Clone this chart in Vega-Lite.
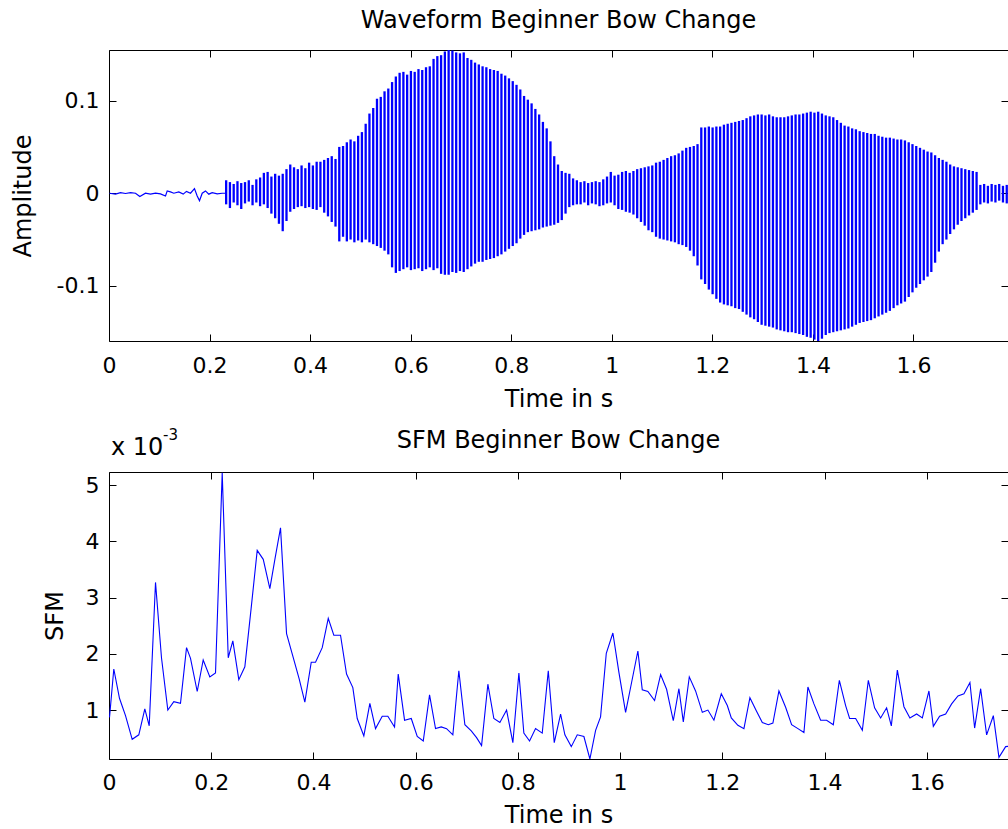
{
  "$schema": "https://vega.github.io/schema/vega-lite/v6.json",
  "padding": {"left": 11, "top": 9, "right": 0, "bottom": 0},
  "spacing": 16,
  "config": {
    "font": "DejaVu Sans",
    "view": {"stroke": null},
    "axis": {
      "grid": false,
      "domainColor": "#000000",
      "tickColor": "#000000",
      "labelColor": "#000000",
      "titleColor": "#000000",
      "labelFontSize": 22,
      "titleFontSize": 24,
      "titleFontWeight": "normal",
      "tickSize": -7,
      "tickWidth": 1,
      "domainWidth": 1,
      "labelOverlap": false
    },
    "title": {"fontSize": 24, "fontWeight": "normal", "color": "#000000"}
  },
  "vconcat": [
    {
      "width": 899,
      "height": 291,
      "title": {"text": "Waveform Beginner Bow Change", "frame": "group", "anchor": "middle", "baseline": "alphabetic", "offset": -2.5},
      "layer": [
        {
          "data": {"values": [
            {"t":0.001,"a":0},{"t":0.0129,"a":-0.001},{"t":0.0229,"a":0.0007},{"t":0.0328,"a":-0.0003},{"t":0.0428,"a":0.0007},{"t":0.0527,"a":0},{"t":0.0613,"a":-0.0036},{"t":0.0726,"a":0},{"t":0.0825,"a":-0.001},{"t":0.0925,"a":0},{"t":0.1024,"a":-0.0007},{"t":0.1124,"a":-0.003},{"t":0.1158,"a":0.0025},{"t":0.1223,"a":0.0014},{"t":0.1289,"a":0},{"t":0.1388,"a":0.0014},{"t":0.1476,"a":-0.001},{"t":0.1541,"a":0.002},{"t":0.1621,"a":0},{"t":0.17,"a":0.005},{"t":0.1754,"a":-0.003},{"t":0.18,"a":-0.008},{"t":0.1854,"a":0},{"t":0.1919,"a":0.0025},{"t":0.1985,"a":-0.001},{"t":0.2052,"a":0.0007},{"t":0.2152,"a":-0.0007},{"t":0.2251,"a":0},{"t":0.2317,"a":0}
          ]},
          "mark": {"type": "line", "color": "#0000ff", "strokeWidth": 1.2, "clip": true},
          "encoding": {
            "x": {"field": "t", "type": "quantitative", "scale": {"domain": [0, 1.788], "nice": false, "zero": false},
              "axis": {"orient": "bottom", "values": [0,0.2,0.4,0.6,0.8,1,1.2,1.4,1.6], "format": "~g", "labelFlush": false, "labelPadding": 38, "labelBaseline": "alphabetic", "title": "Time in s", "titleX": 449.5, "titleY": 65, "titleAlign": "center", "titleBaseline": "alphabetic", "titleAngle": 0}},
            "y": {"field": "a", "type": "quantitative", "scale": {"domain": [-0.1595, 0.1546], "nice": false, "zero": false},
              "axis": {"orient": "left", "values": [-0.1,0,0.1], "labelExpr": "datum.value < 0 ? '-0.1' : (datum.value > 0 ? '0.1' : '0')", "labelPadding": 17, "title": "Amplitude", "titleX": -78.5, "titleY": 145.5, "titleAngle": -90, "titleAlign": "center", "titleBaseline": "alphabetic"}}
          }
        },
        {
          "data": {"values": [
            {"t":0.233,"lo":-0.012,"hi":0.014},{"t":0.2405,"lo":-0.016,"hi":0.012},{"t":0.248,"lo":-0.010,"hi":0.010},{"t":0.2555,"lo":-0.013,"hi":0.013},{"t":0.263,"lo":-0.017,"hi":0.011},{"t":0.2705,"lo":-0.011,"hi":0.012},{"t":0.278,"lo":-0.009,"hi":0.014},{"t":0.2855,"lo":-0.013,"hi":0.009},{"t":0.293,"lo":-0.010,"hi":0.015},{"t":0.3005,"lo":-0.014,"hi":0.017},
            {"t":0.308,"lo":-0.012,"hi":0.022},{"t":0.3155,"lo":-0.016,"hi":0.023},{"t":0.323,"lo":-0.022,"hi":0.018},{"t":0.3305,"lo":-0.027,"hi":0.021},{"t":0.338,"lo":-0.033,"hi":0.019},{"t":0.3455,"lo":-0.041,"hi":0.021},{"t":0.353,"lo":-0.030,"hi":0.026},{"t":0.3605,"lo":-0.020,"hi":0.031},{"t":0.368,"lo":-0.017,"hi":0.028},{"t":0.3755,"lo":-0.015,"hi":0.026},
            {"t":0.383,"lo":-0.014,"hi":0.030},{"t":0.3905,"lo":-0.016,"hi":0.027},{"t":0.398,"lo":-0.015,"hi":0.033},{"t":0.4055,"lo":-0.017,"hi":0.030},{"t":0.413,"lo":-0.018,"hi":0.034},{"t":0.4205,"lo":-0.015,"hi":0.034},{"t":0.428,"lo":-0.021,"hi":0.036},{"t":0.4355,"lo":-0.025,"hi":0.038},{"t":0.443,"lo":-0.031,"hi":0.040},{"t":0.4505,"lo":-0.036,"hi":0.037},
            {"t":0.458,"lo":-0.052,"hi":0.050},{"t":0.4655,"lo":-0.047,"hi":0.051},{"t":0.473,"lo":-0.052,"hi":0.055},{"t":0.4805,"lo":-0.050,"hi":0.058},{"t":0.488,"lo":-0.053,"hi":0.056},{"t":0.4955,"lo":-0.051,"hi":0.062},{"t":0.503,"lo":-0.053,"hi":0.066},{"t":0.5105,"lo":-0.050,"hi":0.075},{"t":0.518,"lo":-0.053,"hi":0.086},{"t":0.5255,"lo":-0.055,"hi":0.092},
            {"t":0.533,"lo":-0.057,"hi":0.102},{"t":0.5405,"lo":-0.059,"hi":0.104},{"t":0.548,"lo":-0.062,"hi":0.110},{"t":0.5555,"lo":-0.066,"hi":0.113},{"t":0.563,"lo":-0.080,"hi":0.120},{"t":0.5705,"lo":-0.086,"hi":0.126},{"t":0.578,"lo":-0.084,"hi":0.130},{"t":0.5855,"lo":-0.082,"hi":0.131},{"t":0.593,"lo":-0.080,"hi":0.128},{"t":0.6005,"lo":-0.083,"hi":0.132},
            {"t":0.608,"lo":-0.082,"hi":0.131},{"t":0.6155,"lo":-0.081,"hi":0.134},{"t":0.623,"lo":-0.084,"hi":0.133},{"t":0.6305,"lo":-0.082,"hi":0.136},{"t":0.638,"lo":-0.080,"hi":0.137},{"t":0.6455,"lo":-0.083,"hi":0.145},{"t":0.653,"lo":-0.081,"hi":0.148},{"t":0.6605,"lo":-0.087,"hi":0.149},{"t":0.668,"lo":-0.088,"hi":0.153},{"t":0.6755,"lo":-0.088,"hi":0.155},
            {"t":0.683,"lo":-0.085,"hi":0.154},{"t":0.6905,"lo":-0.086,"hi":0.152},{"t":0.698,"lo":-0.084,"hi":0.151},{"t":0.7055,"lo":-0.085,"hi":0.152},{"t":0.713,"lo":-0.082,"hi":0.146},{"t":0.7205,"lo":-0.079,"hi":0.144},{"t":0.728,"lo":-0.076,"hi":0.141},{"t":0.7355,"lo":-0.074,"hi":0.139},{"t":0.743,"lo":-0.074,"hi":0.137},{"t":0.7505,"lo":-0.072,"hi":0.136},
            {"t":0.758,"lo":-0.071,"hi":0.134},{"t":0.7655,"lo":-0.070,"hi":0.133},{"t":0.773,"lo":-0.068,"hi":0.132},{"t":0.7805,"lo":-0.066,"hi":0.129},{"t":0.788,"lo":-0.063,"hi":0.127},{"t":0.7955,"lo":-0.060,"hi":0.124},{"t":0.803,"lo":-0.057,"hi":0.121},{"t":0.8105,"lo":-0.054,"hi":0.117},{"t":0.818,"lo":-0.049,"hi":0.112},{"t":0.8255,"lo":-0.045,"hi":0.105},
            {"t":0.833,"lo":-0.042,"hi":0.101},{"t":0.8405,"lo":-0.041,"hi":0.097},{"t":0.848,"lo":-0.040,"hi":0.091},{"t":0.8555,"lo":-0.039,"hi":0.085},{"t":0.863,"lo":-0.037,"hi":0.077},{"t":0.8705,"lo":-0.036,"hi":0.070},{"t":0.878,"lo":-0.035,"hi":0.056},{"t":0.8855,"lo":-0.034,"hi":0.040},{"t":0.893,"lo":-0.032,"hi":0.031},{"t":0.9005,"lo":-0.029,"hi":0.024},
            {"t":0.908,"lo":-0.022,"hi":0.022},{"t":0.9155,"lo":-0.015,"hi":0.021},{"t":0.923,"lo":-0.013,"hi":0.016},{"t":0.9305,"lo":-0.012,"hi":0.014},{"t":0.938,"lo":-0.012,"hi":0.012},{"t":0.9455,"lo":-0.010,"hi":0.013},{"t":0.953,"lo":-0.013,"hi":0.011},{"t":0.9605,"lo":-0.011,"hi":0.012},{"t":0.968,"lo":-0.012,"hi":0.013},{"t":0.9755,"lo":-0.014,"hi":0.012},
            {"t":0.983,"lo":-0.013,"hi":0.015},{"t":0.9905,"lo":-0.011,"hi":0.018},{"t":0.998,"lo":-0.010,"hi":0.023},{"t":1.0055,"lo":-0.013,"hi":0.019},{"t":1.013,"lo":-0.017,"hi":0.020},{"t":1.0205,"lo":-0.018,"hi":0.023},{"t":1.028,"lo":-0.020,"hi":0.024},{"t":1.0355,"lo":-0.021,"hi":0.022},{"t":1.043,"lo":-0.023,"hi":0.024},{"t":1.0505,"lo":-0.027,"hi":0.026},
            {"t":1.058,"lo":-0.031,"hi":0.027},{"t":1.0655,"lo":-0.035,"hi":0.028},{"t":1.073,"lo":-0.040,"hi":0.029},{"t":1.0805,"lo":-0.042,"hi":0.030},{"t":1.088,"lo":-0.047,"hi":0.033},{"t":1.0955,"lo":-0.049,"hi":0.034},{"t":1.103,"lo":-0.050,"hi":0.036},{"t":1.1105,"lo":-0.051,"hi":0.038},{"t":1.118,"lo":-0.052,"hi":0.040},{"t":1.1255,"lo":-0.053,"hi":0.041},
            {"t":1.133,"lo":-0.055,"hi":0.043},{"t":1.1405,"lo":-0.056,"hi":0.046},{"t":1.148,"lo":-0.058,"hi":0.049},{"t":1.1555,"lo":-0.062,"hi":0.050},{"t":1.163,"lo":-0.068,"hi":0.051},{"t":1.1705,"lo":-0.078,"hi":0.053},{"t":1.178,"lo":-0.093,"hi":0.071},{"t":1.1855,"lo":-0.098,"hi":0.071},{"t":1.193,"lo":-0.104,"hi":0.072},{"t":1.2005,"lo":-0.109,"hi":0.071},
            {"t":1.208,"lo":-0.114,"hi":0.072},{"t":1.2155,"lo":-0.118,"hi":0.072},{"t":1.223,"lo":-0.120,"hi":0.074},{"t":1.2305,"lo":-0.121,"hi":0.075},{"t":1.238,"lo":-0.122,"hi":0.076},{"t":1.2455,"lo":-0.124,"hi":0.077},{"t":1.253,"lo":-0.125,"hi":0.078},{"t":1.2605,"lo":-0.128,"hi":0.079},{"t":1.268,"lo":-0.131,"hi":0.081},{"t":1.2755,"lo":-0.134,"hi":0.083},
            {"t":1.283,"lo":-0.136,"hi":0.084},{"t":1.2905,"lo":-0.139,"hi":0.085},{"t":1.298,"lo":-0.142,"hi":0.085},{"t":1.3055,"lo":-0.143,"hi":0.084},{"t":1.313,"lo":-0.144,"hi":0.085},{"t":1.3205,"lo":-0.145,"hi":0.083},{"t":1.328,"lo":-0.147,"hi":0.082},{"t":1.3355,"lo":-0.148,"hi":0.082},{"t":1.343,"lo":-0.149,"hi":0.082},{"t":1.3505,"lo":-0.150,"hi":0.083},
            {"t":1.358,"lo":-0.150,"hi":0.084},{"t":1.3655,"lo":-0.151,"hi":0.085},{"t":1.373,"lo":-0.152,"hi":0.085},{"t":1.3805,"lo":-0.153,"hi":0.086},{"t":1.388,"lo":-0.155,"hi":0.087},{"t":1.3955,"lo":-0.156,"hi":0.088},{"t":1.403,"lo":-0.158,"hi":0.087},{"t":1.4105,"lo":-0.160,"hi":0.088},{"t":1.418,"lo":-0.157,"hi":0.086},{"t":1.4255,"lo":-0.153,"hi":0.084},
            {"t":1.433,"lo":-0.151,"hi":0.083},{"t":1.4405,"lo":-0.150,"hi":0.082},{"t":1.448,"lo":-0.149,"hi":0.079},{"t":1.4555,"lo":-0.148,"hi":0.076},{"t":1.463,"lo":-0.147,"hi":0.073},{"t":1.4705,"lo":-0.146,"hi":0.072},{"t":1.478,"lo":-0.144,"hi":0.070},{"t":1.4855,"lo":-0.142,"hi":0.069},{"t":1.493,"lo":-0.140,"hi":0.067},{"t":1.5005,"lo":-0.139,"hi":0.066},
            {"t":1.508,"lo":-0.138,"hi":0.065},{"t":1.5155,"lo":-0.137,"hi":0.064},{"t":1.523,"lo":-0.135,"hi":0.064},{"t":1.5305,"lo":-0.133,"hi":0.062},{"t":1.538,"lo":-0.131,"hi":0.061},{"t":1.5455,"lo":-0.129,"hi":0.060},{"t":1.553,"lo":-0.127,"hi":0.060},{"t":1.5605,"lo":-0.124,"hi":0.059},{"t":1.568,"lo":-0.121,"hi":0.058},{"t":1.5755,"lo":-0.119,"hi":0.058},
            {"t":1.583,"lo":-0.117,"hi":0.057},{"t":1.5905,"lo":-0.112,"hi":0.055},{"t":1.598,"lo":-0.107,"hi":0.053},{"t":1.6055,"lo":-0.102,"hi":0.051},{"t":1.613,"lo":-0.098,"hi":0.049},{"t":1.6205,"lo":-0.094,"hi":0.047},{"t":1.628,"lo":-0.090,"hi":0.045},{"t":1.6355,"lo":-0.085,"hi":0.044},{"t":1.643,"lo":-0.075,"hi":0.041},{"t":1.6505,"lo":-0.063,"hi":0.038},
            {"t":1.658,"lo":-0.055,"hi":0.036},{"t":1.6655,"lo":-0.050,"hi":0.034},{"t":1.673,"lo":-0.044,"hi":0.031},{"t":1.6805,"lo":-0.039,"hi":0.029},{"t":1.688,"lo":-0.034,"hi":0.028},{"t":1.6955,"lo":-0.030,"hi":0.027},{"t":1.703,"lo":-0.027,"hi":0.026},{"t":1.7105,"lo":-0.024,"hi":0.025},{"t":1.718,"lo":-0.021,"hi":0.024},{"t":1.7255,"lo":-0.018,"hi":0.023},
            {"t":1.733,"lo":-0.012,"hi":0.009},{"t":1.7405,"lo":-0.010,"hi":0.010},{"t":1.748,"lo":-0.011,"hi":0.008},{"t":1.7555,"lo":-0.009,"hi":0.010},{"t":1.763,"lo":-0.010,"hi":0.009},{"t":1.7705,"lo":-0.008,"hi":0.010},{"t":1.778,"lo":-0.010,"hi":0.008},{"t":1.7855,"lo":-0.011,"hi":0.009}
          ]},
          "mark": {"type": "rule", "color": "#0000ff", "strokeWidth": 2.3, "clip": true},
          "encoding": {
            "x": {"field": "t", "type": "quantitative", "scale": {"domain": [0, 1.788], "nice": false, "zero": false},
              "axis": {"orient": "top", "values": [0,0.2,0.4,0.6,0.8,1,1.2,1.4,1.6], "labels": false, "title": null}},
            "y": {"field": "lo", "type": "quantitative", "scale": {"domain": [-0.1595, 0.1546], "nice": false, "zero": false},
              "axis": {"orient": "right", "values": [-0.1,0,0.1], "labels": false, "domain": false, "title": null}},
            "y2": {"field": "hi"}
          }
        }
      ],
      "resolve": {"axis": {"x": "independent", "y": "independent"}}
    },
    {
      "width": 899,
      "height": 287,
      "title": {"text": "SFM Beginner Bow Change", "frame": "group", "anchor": "middle", "baseline": "alphabetic", "offset": -45},
      "layer": [
        {
          "data": {"values": [
            {"t":0.001,"v":0.00087},{"t":0.0094,"v":0.00173},{"t":0.0205,"v":0.00121},{"t":0.0323,"v":0.0009},{"t":0.0454,"v":0.00048},{"t":0.0583,"v":0.00056},{"t":0.0701,"v":0.00102},{"t":0.0787,"v":0.00072},{"t":0.091,"v":0.00327},{"t":0.1027,"v":0.00193},
            {"t":0.1151,"v":0.001},{"t":0.1268,"v":0.00115},{"t":0.1399,"v":0.00112},{"t":0.1517,"v":0.00211},{"t":0.1595,"v":0.00192},{"t":0.1726,"v":0.00133},{"t":0.1843,"v":0.00189},{"t":0.1973,"v":0.00159},{"t":0.2084,"v":0.00166},{"t":0.2215,"v":0.00522},
            {"t":0.2333,"v":0.00193},{"t":0.2423,"v":0.00223},{"t":0.254,"v":0.00154},{"t":0.2658,"v":0.00177},{"t":0.278,"v":0.0028},{"t":0.29,"v":0.00384},{"t":0.3018,"v":0.00368},{"t":0.3147,"v":0.00316},{"t":0.325,"v":0.0037},{"t":0.3356,"v":0.00424},
            {"t":0.3474,"v":0.00236},{"t":0.3597,"v":0.00196},{"t":0.3722,"v":0.00155},{"t":0.3832,"v":0.00114},{"t":0.3957,"v":0.00185},{"t":0.4041,"v":0.00185},{"t":0.4172,"v":0.00211},{"t":0.429,"v":0.00263},{"t":0.4399,"v":0.00233},{"t":0.453,"v":0.00233},
            {"t":0.4648,"v":0.00164},{"t":0.4771,"v":0.0014},{"t":0.4857,"v":0.00085},{"t":0.4986,"v":0.00054},{"t":0.5104,"v":0.00112},{"t":0.5215,"v":0.00067},{"t":0.5346,"v":0.00089},{"t":0.5456,"v":0.00089},{"t":0.5587,"v":0.0007},{"t":0.5659,"v":0.00164},
            {"t":0.5783,"v":0.00082},{"t":0.5914,"v":0.00085},{"t":0.6031,"v":0.00053},{"t":0.6149,"v":0.00045},{"t":0.6272,"v":0.00127},{"t":0.6389,"v":0.00067},{"t":0.6501,"v":0.0007},{"t":0.6605,"v":0.00067},{"t":0.6728,"v":0.00056},{"t":0.6845,"v":0.0017},
            {"t":0.6963,"v":0.00074},{"t":0.7088,"v":0.00063},{"t":0.7192,"v":0.00051},{"t":0.729,"v":0.00037},{"t":0.7413,"v":0.00146},{"t":0.753,"v":0.00085},{"t":0.7648,"v":0.00078},{"t":0.7779,"v":0.001},{"t":0.7902,"v":0.00042},{"t":0.802,"v":0.00166},
            {"t":0.8117,"v":0.00059},{"t":0.8229,"v":0.00045},{"t":0.8346,"v":0.00067},{"t":0.8477,"v":0.00059},{"t":0.8595,"v":0.0017},{"t":0.8712,"v":0.00042},{"t":0.8836,"v":0.00093},{"t":0.892,"v":0.00056},{"t":0.9045,"v":0.00035},{"t":0.9162,"v":0.00056},
            {"t":0.9292,"v":0.00053},{"t":0.9409,"v":0.00013},{"t":0.9521,"v":0.00064},{"t":0.9618,"v":0.00088},{"t":0.973,"v":0.00201},{"t":0.9859,"v":0.00237},{"t":0.9977,"v":0.00167},{"t":1.0108,"v":0.00096},{"t":1.0225,"v":0.00149},{"t":1.0348,"v":0.00205},
            {"t":1.0434,"v":0.00136},{"t":1.0544,"v":0.00133},{"t":1.0675,"v":0.00117},{"t":1.0793,"v":0.00163},{"t":1.091,"v":0.00137},{"t":1.1041,"v":0.00081},{"t":1.1151,"v":0.00138},{"t":1.1237,"v":0.00079},{"t":1.1354,"v":0.00159},{"t":1.1477,"v":0.00134},
            {"t":1.1609,"v":0.00096},{"t":1.1718,"v":0.001},{"t":1.1836,"v":0.00082},{"t":1.198,"v":0.00129},{"t":1.2098,"v":0.00108},{"t":1.2176,"v":0.00086},{"t":1.2305,"v":0.00073},{"t":1.2423,"v":0.00067},{"t":1.254,"v":0.00122},{"t":1.2665,"v":0.00099},
            {"t":1.2783,"v":0.00078},{"t":1.29,"v":0.00074},{"t":1.299,"v":0.00077},{"t":1.3108,"v":0.00134},{"t":1.3239,"v":0.00105},{"t":1.3356,"v":0.00074},{"t":1.348,"v":0.00067},{"t":1.3597,"v":0.0006},{"t":1.3675,"v":0.00141},{"t":1.3793,"v":0.00111},
            {"t":1.3924,"v":0.00082},{"t":1.4041,"v":0.00082},{"t":1.4172,"v":0.00074},{"t":1.429,"v":0.00153},{"t":1.4413,"v":0.00108},{"t":1.4491,"v":0.00085},{"t":1.4609,"v":0.00085},{"t":1.474,"v":0.00064},{"t":1.4857,"v":0.00153},{"t":1.498,"v":0.00104},
            {"t":1.5098,"v":0.00086},{"t":1.5215,"v":0.00104},{"t":1.5307,"v":0.00072},{"t":1.5425,"v":0.00171},{"t":1.5554,"v":0.00106},{"t":1.5671,"v":0.00086},{"t":1.5802,"v":0.00093},{"t":1.5914,"v":0.00086},{"t":1.6043,"v":0.00134},{"t":1.6129,"v":0.00071},
            {"t":1.6252,"v":0.00089},{"t":1.637,"v":0.00093},{"t":1.6487,"v":0.00111},{"t":1.6611,"v":0.00125},{"t":1.6728,"v":0.00129},{"t":1.6845,"v":0.00149},{"t":1.6937,"v":0.00068},{"t":1.7055,"v":0.00138},{"t":1.7172,"v":0.00056},{"t":1.7303,"v":0.0009},
            {"t":1.7413,"v":0.00016},{"t":1.7544,"v":0.00035},{"t":1.766,"v":0.00036}
          ]},
          "mark": {"type": "line", "color": "#0000ff", "strokeWidth": 1.1, "clip": true},
          "encoding": {
            "x": {"field": "t", "type": "quantitative", "scale": {"domain": [0, 1.759], "nice": false, "zero": false},
              "axis": {"orient": "bottom", "values": [0,0.2,0.4,0.6,0.8,1,1.2,1.4,1.6], "format": "~g", "labelFlush": false, "labelPadding": 37, "labelBaseline": "alphabetic", "title": "Time in s", "titleX": 449.5, "titleY": 63, "titleAlign": "center", "titleBaseline": "alphabetic", "titleAngle": 0}},
            "y": {"field": "v", "type": "quantitative", "scale": {"domain": [0.00013, 0.005233], "nice": false, "zero": false},
              "axis": {"orient": "left", "values": [0.001,0.002,0.003,0.004,0.005], "labelExpr": "format(datum.value * 1000, 'd')", "labelPadding": 17, "title": "SFM", "titleX": -46.5, "titleY": 143.5, "titleAngle": -90, "titleAlign": "center", "titleBaseline": "alphabetic"}}
          }
        },
        {
          "data": {"values": [{}]},
          "mark": {"type": "point", "opacity": 0},
          "encoding": {
            "x": {"datum": 0, "type": "quantitative", "scale": {"domain": [0, 1.759], "nice": false, "zero": false},
              "axis": {"orient": "top", "values": [0,0.2,0.4,0.6,0.8,1,1.2,1.4,1.6], "labels": false, "title": "x 10", "titleX": 1.5, "titleY": -18, "titleAlign": "left", "titleBaseline": "alphabetic", "titleAngle": 0, "titleFontSize": 24}},
            "y": {"datum": 0.001, "type": "quantitative", "scale": {"domain": [0.00013, 0.005233], "nice": false, "zero": false},
              "axis": {"orient": "right", "values": [0.001,0.002,0.003,0.004,0.005], "labels": false, "domain": false, "title": "-3", "titleX": -845.5, "titleY": -33, "titleAlign": "left", "titleBaseline": "alphabetic", "titleAngle": 0, "titleFontSize": 15}}
          }
        }
      ],
      "resolve": {"axis": {"x": "independent", "y": "independent"}}
    }
  ]
}
